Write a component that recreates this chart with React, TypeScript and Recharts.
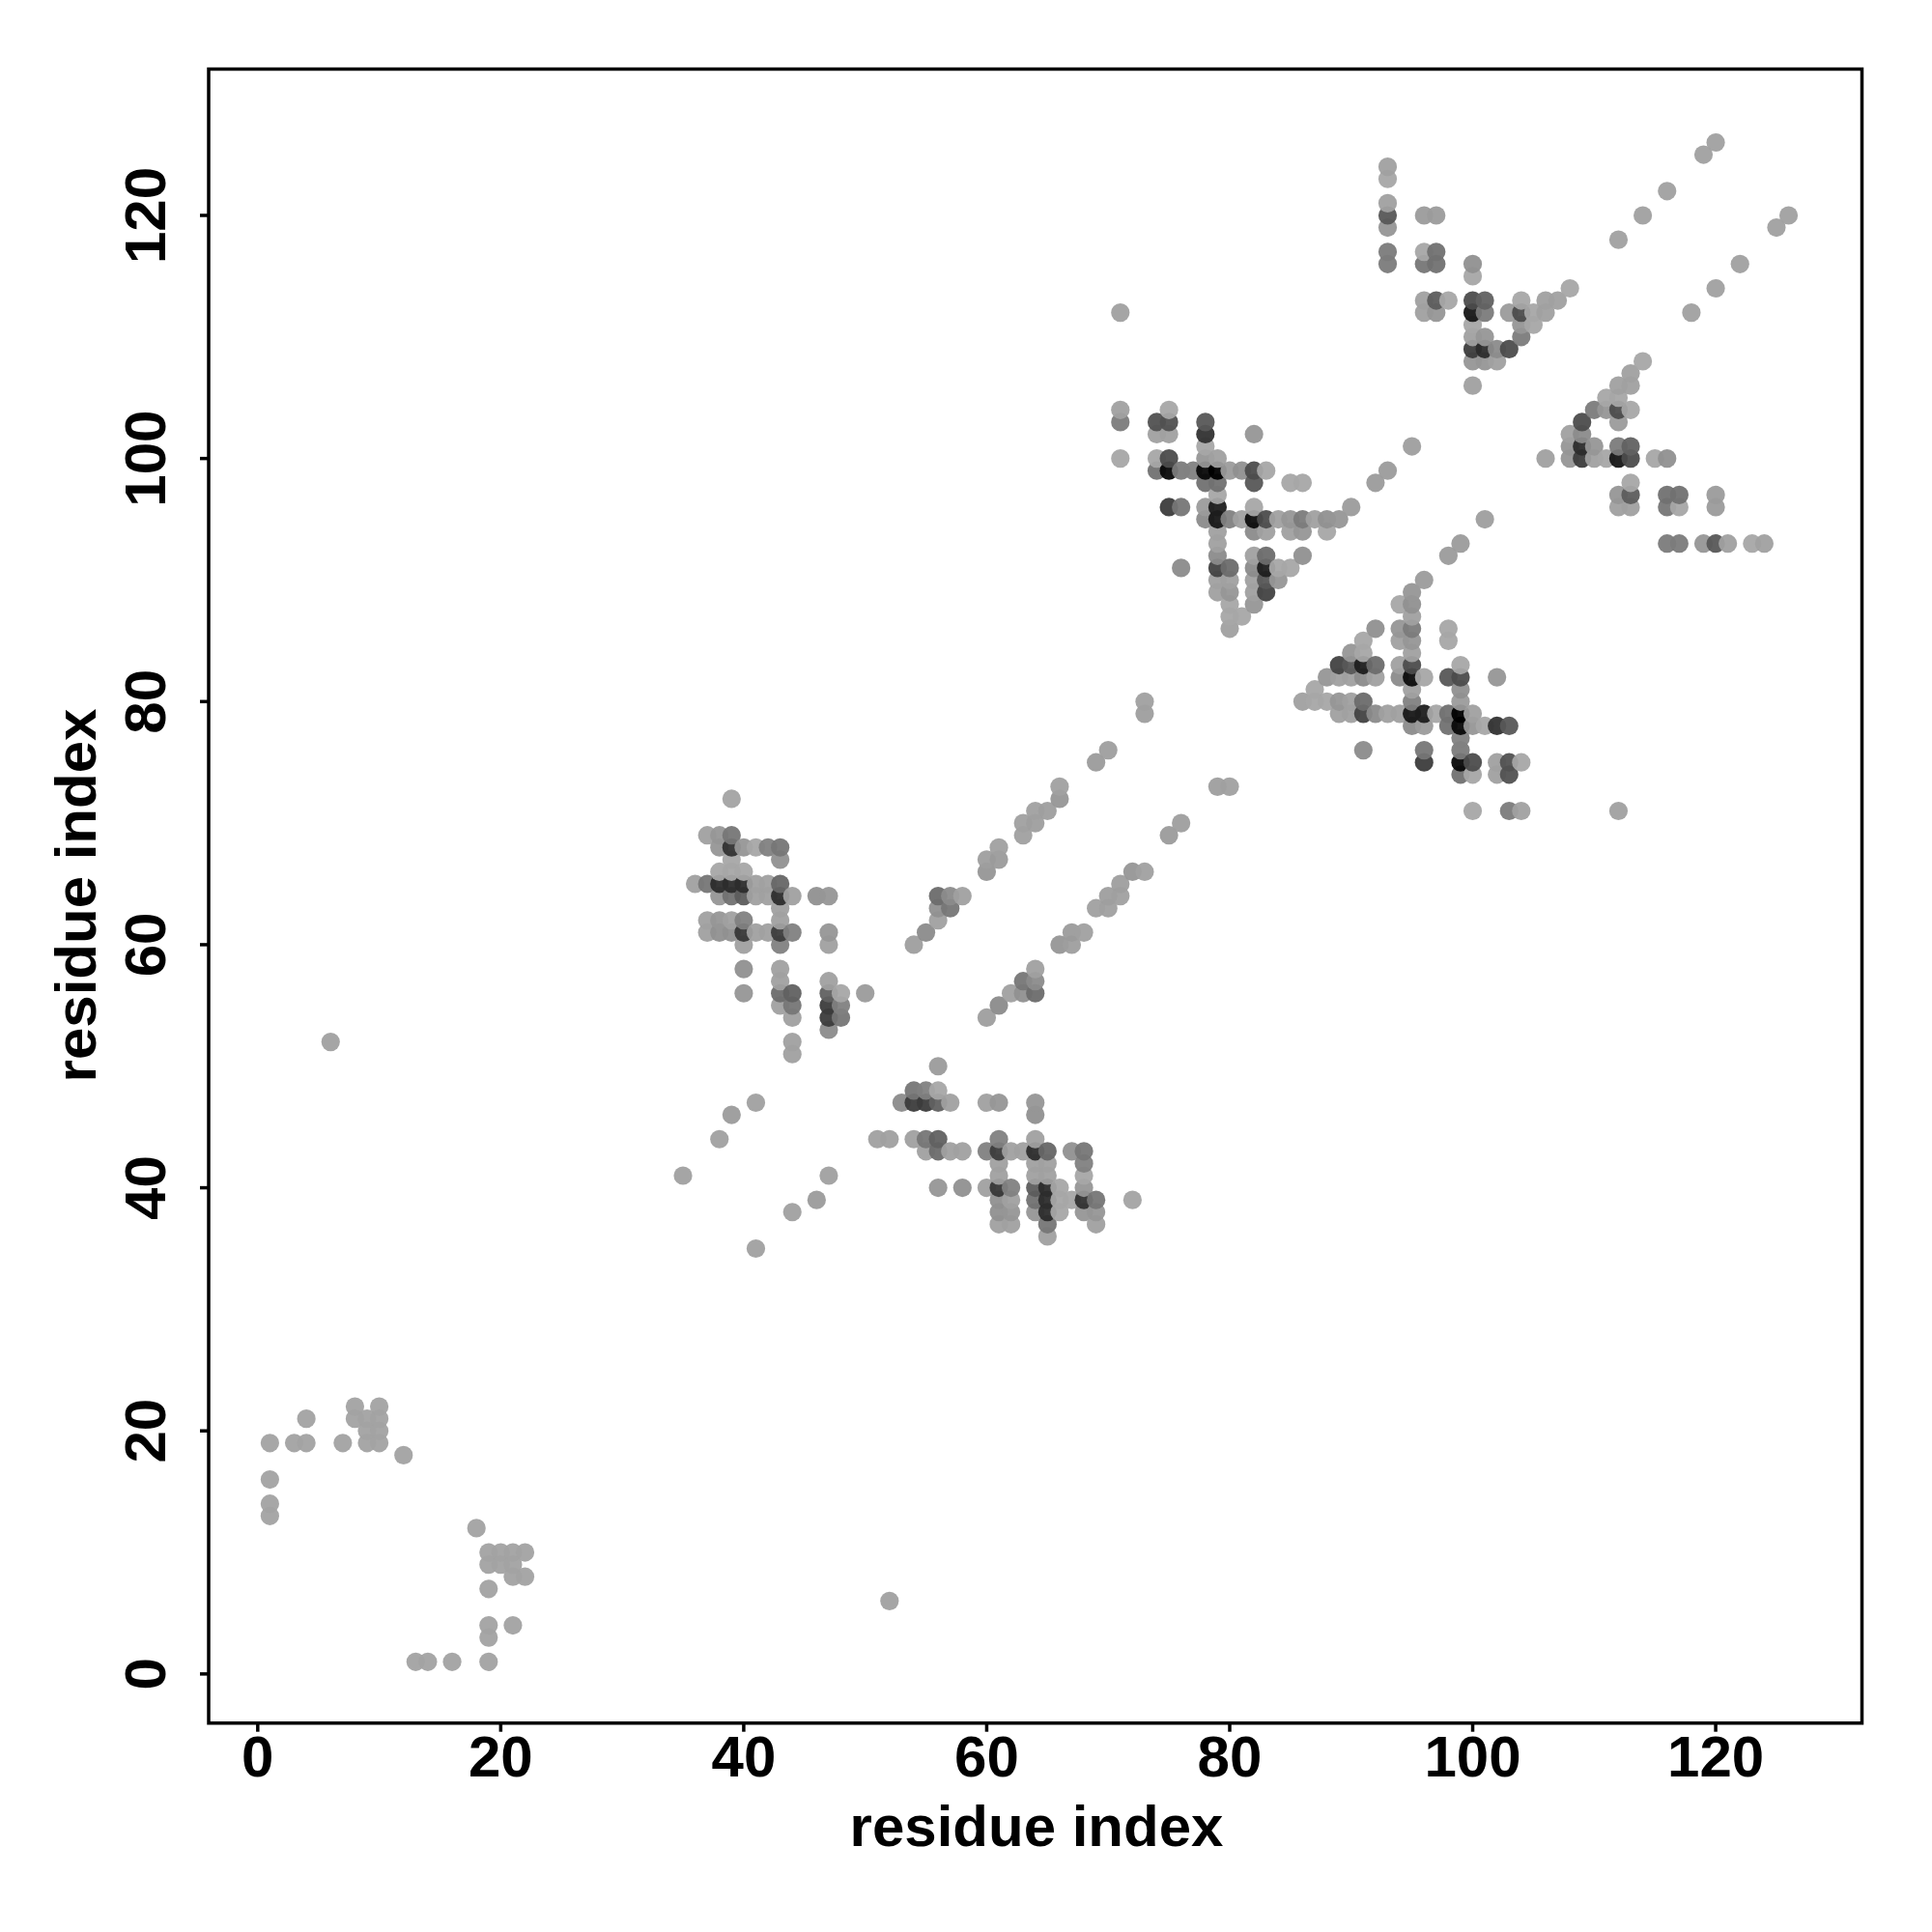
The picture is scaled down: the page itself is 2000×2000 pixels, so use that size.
import React from 'react';
import { ScatterChart, Scatter, XAxis, YAxis, ReferenceArea } from 'recharts';

type Contact = [number, number, number];

const axisTicks = [0, 20, 40, 60, 80, 100, 120];
const axisDomain: [number, number] = [-4.04, 132.04];

// [residue i, residue j, grey]; the map is symmetric, only i<j is listed
const termini: Contact[] = [
  [1,13,162],[1,14,162],[1,16,162],[1,19,162],[3,19,162],[4,19,162],[4,21,162],[7,19,162],[8,21,162],[8,22,162],
  [9,19,162],[9,20,162],[9,21,162],[10,19,162],[10,20,162],[10,21,162],[10,22,162],[12,18,162],[6,52,160],
];
const strandLines: Contact[] = [
  [35,41,160],[38,44,160],[39,46,155],[41,47,160],
  [54,60,158],[55,61,140],[56,62,160],[56,63,145],[56,64,115],[57,63,125],[57,64,140],[58,64,160],
  [60,66,150],[60,67,158],[61,67,155],[61,68,160],[63,69,160],[63,70,160],[64,70,158],[64,71,160],[65,71,158],
  [66,72,150],[66,73,160],[69,75,155],[70,76,158],[73,79,158],[73,80,160],
  [90,96,155],[92,98,155],[93,99,155],[95,101,158],
  [112,118,160],[114,120,160],[116,122,160],[119,125,160],[120,126,160],
];
const clusterA: Contact[] = [
  [39,72,163],[37,69,160],[38,69,150],[39,69,125],
  [38,68,150],[39,68,60],[40,68,150],[41,68,165],[42,68,135],[43,68,125],
  [39,67,165],[43,67,145],[38,66,165],[39,66,165],[40,66,165],
  [36,65,160],[37,65,125],[38,65,55],[39,65,55],[40,65,55],[41,65,160],[42,65,160],[43,65,110],
  [38,64,150],[39,64,120],[40,64,100],[41,64,160],[42,64,160],[43,64,55],[44,64,160],[46,64,145],[47,64,150],
  [43,63,160],[37,62,160],[38,62,150],[39,62,160],[40,62,135],[43,62,160],
  [37,61,160],[38,61,145],[39,61,145],[40,61,65],[41,61,160],[42,61,160],[43,61,70],[44,61,135],[47,61,150],
  [40,60,160],[43,60,135],[47,60,160],[40,58,145],[43,58,160],[43,57,160],[47,57,160],
  [40,56,150],[43,56,115],[44,56,105],[47,56,105],[48,56,165],[50,56,155],
  [43,55,160],[44,55,125],[47,55,70],[48,55,135],[44,54,160],[47,54,70],[48,54,125],[47,53,140],[44,52,160],[44,51,160],
];
const clusterD: Contact[] = [
  [71,104,160],[75,104,165],[71,103,130],[74,103,90],[75,103,90],[78,103,95],
  [74,102,160],[75,102,160],[78,102,60],[82,102,150],[78,101,165],
  [71,100,165],[74,100,165],[75,100,85],[78,100,150],[79,100,160],
  [74,99,120],[75,99,20],[76,99,130],[77,99,135],[78,99,20],[79,99,5],[80,99,155],[81,99,145],[82,99,85],[83,99,165],
  [78,98,120],[79,98,120],[82,98,95],[85,98,165],[86,98,165],[79,97,165],
  [75,96,70],[76,96,125],[78,96,155],[79,96,40],[82,96,165],
  [78,95,140],[79,95,35],[80,95,135],[81,95,160],[82,95,25],[83,95,85],[84,95,160],[85,95,150],[86,95,130],[87,95,160],[88,95,145],[89,95,150],
  [79,94,160],[82,94,140],[83,94,160],[85,94,160],[86,94,150],[88,94,165],[79,93,160],
  [79,92,140],[82,92,160],[83,92,115],[86,92,145],
  [76,91,140],[79,91,75],[80,91,115],[82,91,140],[83,91,40],[84,91,165],[85,91,165],
  [79,90,160],[80,90,160],[82,90,160],[83,90,95],[84,90,150],
  [79,89,160],[80,89,150],[82,89,160],[83,89,75],[80,88,165],[82,88,150],[80,87,165],[81,87,165],[80,86,160],
  [71,112,160],
];
const clusterE: Contact[] = [
  [93,124,160],[93,123,165],[93,121,160],[93,120,95],[96,120,155],[97,120,155],[93,119,150],
  [93,117,130],[96,117,165],[97,117,120],[93,116,130],[96,116,125],[97,116,120],
  [100,116,145],[100,115,165],[108,114,165],
  [96,113,160],[97,113,100],[98,113,165],[100,113,85],[101,113,105],[104,113,165],[106,113,160],[107,113,160],
  [96,112,160],[97,112,150],[100,112,35],[101,112,130],[103,112,155],[104,112,85],[105,112,165],[106,112,160],
  [100,111,165],[104,111,150],[105,111,165],[100,110,160],[101,110,150],[104,110,130],
  [100,109,70],[101,109,55],[102,109,140],[103,109,85],[100,108,150],[101,108,150],[102,108,160],[100,106,160],
];

const halfMap: Contact[] = [...termini, ...strandLines, ...clusterA, ...clusterD, ...clusterE];
const OPACITY = 0.95;
const points = [...halfMap, ...halfMap.map(([i, j, g]) => [j, i, g] as Contact)]
  .sort((a, b) => a[0] - b[0] || a[1] - b[1])
  .map(([x, y, shade]) => ({ x, y, shade }));

const FONT = '"Liberation Sans", Arial, sans-serif';

const Dot = (p: any) => {
  const shown = p.payload.shade + (p.payload.shade >= 140 ? 5 : 0);
  const g = Math.max(0, Math.round((shown - 255 * (1 - OPACITY)) / OPACITY));
  return <circle cx={p.cx} cy={p.cy} r={9.6} fill={`rgb(${g},${g},${g})`} fillOpacity={OPACITY} />;
};

const XTick = (p: any) => (
  <text x={p.x} y={1839} textAnchor="middle" fontFamily={FONT} fontWeight="bold" fontSize={60} fill="#000">
    {p.payload.value}
  </text>
);
const YTick = (p: any) => (
  <text
    x={171}
    y={p.y}
    transform={`rotate(-90 171 ${p.y})`}
    textAnchor="middle"
    fontFamily={FONT}
    fontWeight="bold"
    fontSize={60}
    fill="#000"
  >
    {p.payload.value}
  </text>
);
const XTitle = () => (
  <text x={1073} y={1911} textAnchor="middle" fontFamily={FONT} fontWeight="bold" fontSize={60} fill="#000">
    residue index
  </text>
);
const YTitle = () => (
  <text
    x={99}
    y={927}
    transform="rotate(-90 99 927)"
    textAnchor="middle"
    fontFamily={FONT}
    fontWeight="bold"
    fontSize={60}
    fill="#000"
  >
    residue index
  </text>
);

export default function App() {
  return (
    <div style={{ position: 'absolute', left: 0, top: 0, width: 2000, height: 2000, background: '#fff' }}>
      <ScatterChart width={2000} height={2000} margin={{ top: 71.5, right: 72.5, bottom: 0, left: 0 }}>
        <XAxis
          type="number"
          dataKey="x"
          domain={axisDomain}
          ticks={axisTicks}
          allowDataOverflow
          height={216.3}
          axisLine={false}
          tickSize={9}
          tickLine={{ stroke: '#000', strokeWidth: 3.5 }}
          tick={<XTick />}
          interval={0}
          label={<XTitle />}
        />
        <YAxis
          type="number"
          dataKey="y"
          domain={axisDomain}
          ticks={axisTicks}
          allowDataOverflow
          width={216}
          axisLine={false}
          tickSize={9}
          tickLine={{ stroke: '#000', strokeWidth: 3.5 }}
          tick={<YTick />}
          interval={0}
          label={<YTitle />}
        />
        <Scatter data={points} isAnimationActive={false} shape={<Dot />} />
        <ReferenceArea
          x1={axisDomain[0]}
          x2={axisDomain[1]}
          y1={axisDomain[0]}
          y2={axisDomain[1]}
          fill="none"
          stroke="#000"
          strokeWidth={3.5}
          ifOverflow="visible"
        />
      </ScatterChart>
    </div>
  );
}
